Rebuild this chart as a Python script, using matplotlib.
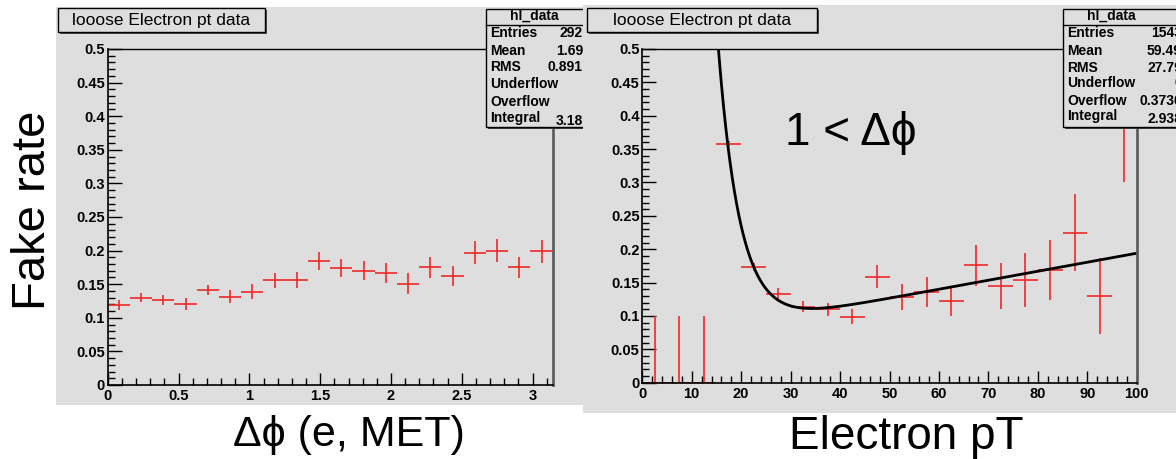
import numpy as np
import matplotlib
matplotlib.use("Agg")
import matplotlib.pyplot as plt
from matplotlib.patches import Rectangle
from matplotlib.ticker import MultipleLocator, FuncFormatter

plt.rcParams['font.family'] = ['Liberation Sans', 'DejaVu Sans']

W, H = 1176, 459

# left panel: fake rate vs delta phi (20 bins over 0..pi)
dphi_edges = np.linspace(0, np.pi, 21)
dphi_rate = [0.119, 0.130, 0.1265, 0.121, 0.141, 0.131, 0.139, 0.156, 0.156, 0.185,
             0.174, 0.170, 0.167, 0.151, 0.175, 0.162, 0.197, 0.200, 0.175, 0.199]
dphi_err = [0.0074, 0.0067, 0.0074, 0.0087, 0.0074, 0.0097, 0.0107, 0.011, 0.0117, 0.0136,
            0.014, 0.014, 0.015, 0.015, 0.0156, 0.0154, 0.0166, 0.017, 0.016, 0.0174]

# right panel: fake rate vs electron pT (20 bins over 0..100)
pt_edges = np.linspace(0, 100, 21)
pt_rate = [0, 0, 0, 0.358, 0.174, 0.133, 0.114, 0.110, 0.099, 0.159,
           0.129, 0.136, 0.122, 0.176, 0.145, 0.154, 0.169, 0.225, 0.130, 0.43]
pt_err = [0.1, 0.1, 0.1, 0.004, 0.006, 0.009, 0.008, 0.010, 0.011, 0.017,
          0.0195, 0.023, 0.022, 0.031, 0.034, 0.040, 0.045, 0.057, 0.057, 0.13]

# fit: a*exp(-b*x) + c + d*x
fit_a, fit_b, fit_c, fit_d = 13.56, 0.2256, 0.059, 0.00135

stats_left = [("Entries", "292"), ("Mean", "1.69"), ("RMS", "0.891"),
              ("Underflow", ""), ("Overflow", ""), ("Integral", "3.18")]
stats_right = [("Entries", "1543"), ("Mean", "59.49"), ("RMS", "27.79"),
               ("Underflow", "0"), ("Overflow", "0.3736"), ("Integral", "2.938")]

GRAY = '#dedede'

fig = plt.figure(figsize=(W / 100, H / 100), dpi=100)


def rect_px(x0, y0, x1, y1, z, **kw):
    r = Rectangle((x0 / W, 1 - y1 / H), (x1 - x0) / W, (y1 - y0) / H,
                  transform=fig.transFigure, zorder=z, **kw)
    fig.patches.append(r)
    return r


def text_px(x, y, s, z, **kw):
    return fig.text(x / W, 1 - y / H, s, zorder=z, **kw)


def axes_px(x0, y0, x1, y1, z):
    ax = fig.add_axes([x0 / W, 1 - y1 / H, (x1 - x0) / W, (y1 - y0) / H])
    ax.set_zorder(z)
    ax.set_facecolor(GRAY)
    return ax


def style_axes(ax, xmaj, xmin):
    ax.set_ylim(0, 0.5)
    ax.yaxis.set_major_locator(MultipleLocator(0.05))
    ax.yaxis.set_minor_locator(MultipleLocator(0.01))
    ax.xaxis.set_major_locator(MultipleLocator(xmaj))
    ax.xaxis.set_minor_locator(MultipleLocator(xmin))
    ax.yaxis.set_major_formatter(FuncFormatter(lambda v, p: "%g" % round(v, 3)))
    ax.xaxis.set_major_formatter(FuncFormatter(lambda v, p: "%g" % round(v, 3)))
    ax.tick_params(which='both', direction='in', top=False, right=False)
    ax.tick_params(axis='y', which='major', length=10, width=1, pad=2)
    ax.tick_params(axis='y', which='minor', length=5, width=1)
    ax.tick_params(axis='x', which='major', length=9, width=1, pad=3)
    ax.tick_params(axis='x', which='minor', length=5, width=1)
    for lab in ax.get_xticklabels() + ax.get_yticklabels():
        lab.set_fontweight('bold')
        lab.set_fontsize(10.5)
    ax.spines['left'].set_linewidth(1.2)
    ax.spines['bottom'].set_linewidth(1.2)
    ax.spines['top'].set_linewidth(1)
    ax.spines['right'].set_color('#606060')
    ax.spines['right'].set_linewidth(2)


def title_box(x0, x1, z):
    rect_px(x0 + 2, 10, x1 + 2, 34, z, facecolor='#505050', edgecolor='none')
    rect_px(x0, 8, x1, 32, z + 0.01, facecolor=GRAY, edgecolor='black', linewidth=1)
    text_px((x0 + x1) / 2, 20, "looose Electron pt data", z + 0.02,
            ha='center', va='center', fontsize=12.5)


def stats_box(x0, xval, rows, ys, z):
    rect_px(x0 + 2, 11, x0 + 200, 129, z, facecolor='#404040', edgecolor='none')
    rect_px(x0, 9, x0 + 198, 127, z + 0.01, facecolor=GRAY, edgecolor='black', linewidth=1)
    fig.lines.append(plt.Line2D([x0 / W, (x0 + 198) / W], [1 - 25 / H, 1 - 25 / H],
                                transform=fig.transFigure, color='black', lw=1,
                                zorder=z + 0.02))
    text_px(x0 + 48, 16, "hl_data", z + 0.03, ha='center', va='center',
            fontsize=10, fontweight='bold')
    for (name, val), y in zip(rows, ys):
        text_px(x0 + 4, y, name, z + 0.03, ha='left', va='center',
                fontsize=10, fontweight='bold')
        text_px(xval, y + (3 if name == "Integral" else 0), val, z + 0.03,
                ha='right', va='center', fontsize=10, fontweight='bold')


# ---- left canvas
rect_px(56, 7, 585, 405, 0.1, facecolor=GRAY, edgecolor='none')
ax1 = axes_px(107.7, 49, 552.7, 385, 0.2)
c1 = (dphi_edges[:-1] + dphi_edges[1:]) / 2
ax1.errorbar(c1, dphi_rate, yerr=dphi_err, xerr=np.diff(dphi_edges) / 2,
             fmt='none', ecolor='#f02828', elinewidth=1.2)
ax1.set_xlim(0, np.pi)
style_axes(ax1, 0.5, 0.1)
title_box(58, 265, 0.3)
stats_box(486, 583, stats_left, [33, 51, 67, 84, 102, 118], 0.35)

# ---- right canvas
rect_px(583, 5, 1176, 413, 0.5, facecolor=GRAY, edgecolor='none')
ax2 = axes_px(642.3, 49, 1136.7, 382.7, 0.6)
c2 = (pt_edges[:-1] + pt_edges[1:]) / 2
ax2.errorbar(c2, pt_rate, yerr=pt_err, xerr=np.diff(pt_edges) / 2,
             fmt='none', ecolor='#f02828', elinewidth=1.2)
xf = np.linspace(12, 100, 400)
ax2.plot(xf, fit_a * np.exp(-fit_b * xf) + fit_c + fit_d * xf, color='black', lw=2)
ax2.set_xlim(0, 100)
style_axes(ax2, 10, 2)
title_box(587, 817, 0.7)
stats_box(1063, 1182, stats_right, [33, 51, 68, 83, 101, 116], 0.75)
text_px(785, 145, "1 < \u0394\u03d5", 0.8, ha='left', va='baseline', fontsize=33)

# ---- big labels
text_px(33, 210, "Fake rate", 1, ha='center', va='center', rotation=90, fontsize=34)
text_px(349, 446, "\u0394\u03d5 (e, MET)", 1, ha='center', va='baseline', fontsize=31)
text_px(906, 449, "Electron pT", 1, ha='center', va='baseline', fontsize=33)

fig.savefig("out.png", dpi=100, facecolor='white')
